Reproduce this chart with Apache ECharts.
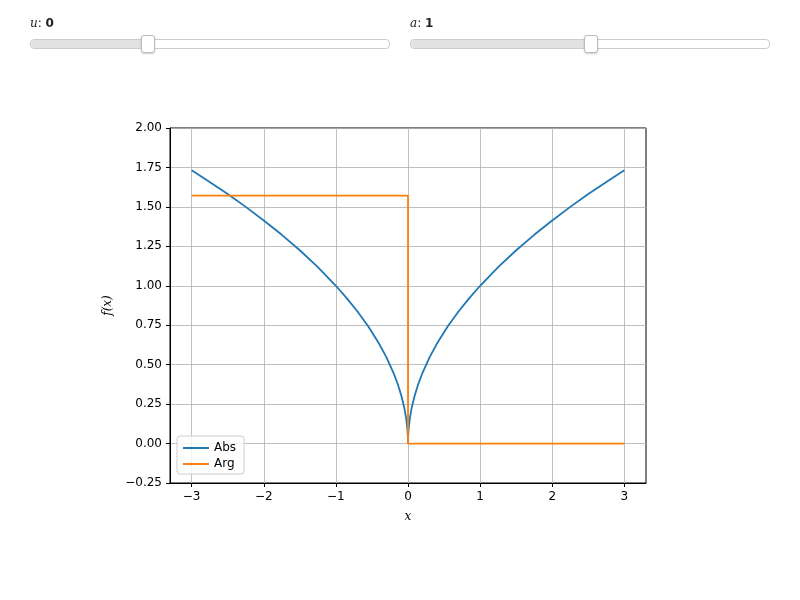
<!DOCTYPE html>
<html>
<head>
<meta charset="utf-8">
<script src="https://cdn.jsdelivr.net/npm/echarts@6/dist/echarts.min.js"></script>
<style>
body{margin:0;background:#fff;font-family:"DejaVu Sans",sans-serif;}
#chart{width:800px;height:600px;position:absolute;left:0;top:0;}
.lbl{position:absolute;top:16px;font-size:12px;color:#222;}
.lbl i{font-family:"DejaVu Serif",serif;}
.track{position:absolute;top:39px;height:8px;border:1px solid #ccc;border-radius:4px;background:#fff;}
.fill{position:absolute;left:0;top:0;height:8px;background:#e2e2e2;border-radius:4px;}
.handle{position:absolute;top:-5px;width:12px;height:16px;background:#fff;border:1px solid #bbb;border-radius:3px;box-shadow:0 1px 2px rgba(0,0,0,.2);}
</style>
</head>
<body>
<div id="chart"></div>
<div class="lbl" style="left:30px"><i>u</i>: <b>0</b></div>
<div class="track" style="left:30px;width:358px"><div class="fill" style="width:117px"></div><div class="handle" style="left:110px"></div></div>
<div class="lbl" style="left:410px"><i>a</i>: <b>1</b></div>
<div class="track" style="left:410px;width:358px"><div class="fill" style="width:180px"></div><div class="handle" style="left:173px"></div></div>
<script>
var xs = [-3,-2.75,-2.5,-2.25,-2,-1.75,-1.5,-1.25,-1,-0.85,-0.7,-0.55,-0.4,-0.3,-0.2,-0.14,-0.09,-0.05,-0.025,-0.01,-0.002,0,
          0.002,0.01,0.025,0.05,0.09,0.14,0.2,0.3,0.4,0.55,0.7,0.85,1,1.25,1.5,1.75,2,2.25,2.5,2.75,3];
var absVals = [1.732,1.658,1.581,1.5,1.414,1.323,1.225,1.118,1.0,0.922,0.837,0.742,0.632,0.548,0.447,0.374,0.3,0.224,0.158,0.1,0.045,0,
               0.045,0.1,0.158,0.224,0.3,0.374,0.447,0.548,0.632,0.742,0.837,0.922,1.0,1.118,1.225,1.323,1.414,1.5,1.581,1.658,1.732];
var argX = [-3,0,0,3];
var argVals = [1.5708,1.5708,0,0];
var xTicks = [-3,-2,-1,0,1,2,3];

var absData = [], argData = [];
for (var i = 0; i < xs.length; i++) absData.push([xs[i], absVals[i]]);
for (var j = 0; j < argX.length; j++) argData.push([argX[j], argVals[j]]);

function minus(s){ return String(s).replace('-', '\u2212'); }

var chart = echarts.init(document.getElementById('chart'));
var axisText = {color:'#000', fontSize:12, fontFamily:'DejaVu Sans'};
chart.setOption({
  animation:false,
  grid:{left:170, right:154, top:128, bottom:117, show:true, borderColor:'#000', borderWidth:1},
  legend:{
    orient:'vertical', left:177, top:436, itemGap:4, itemWidth:26, itemHeight:2,
    backgroundColor:'rgba(255,255,255,0.8)', borderColor:'#ccc', borderWidth:1, borderRadius:3,
    padding:[6,8,4,6], textStyle:{fontSize:12, fontFamily:'DejaVu Sans', color:'#000'},
    data:[{name:'Abs', icon:'rect'},{name:'Arg', icon:'rect'}]
  },
  xAxis:{
    type:'value', min:-3.3, max:3.3,
    name:'x', nameLocation:'middle', nameGap:28,
    nameTextStyle:{fontStyle:'italic', fontSize:12, fontFamily:'DejaVu Serif', color:'#000'},
    axisLine:{onZero:false, lineStyle:{color:'#000'}},
    axisTick:{customValues:xTicks, length:4, lineStyle:{color:'#000'}},
    axisLabel:Object.assign({customValues:xTicks, margin:8, formatter:function(v){return minus(v);}}, axisText),
    splitLine:{show:true, lineStyle:{color:'#b0b0b0', width:0.8}}
  },
  yAxis:{
    type:'value', min:-0.25, max:2.0, interval:0.25,
    name:'f(x)', nameLocation:'middle', nameGap:52, nameRotate:90,
    nameTextStyle:{fontStyle:'italic', fontSize:12, fontFamily:'DejaVu Serif', color:'#000'},
    axisLine:{show:true, onZero:false, lineStyle:{color:'#000'}},
    axisTick:{show:true, length:4, lineStyle:{color:'#000'}},
    axisLabel:Object.assign({margin:8, formatter:function(v){return minus(v.toFixed(2));}}, axisText),
    splitLine:{show:true, lineStyle:{color:'#b0b0b0', width:0.8}}
  },
  series:[
    {name:'Abs', type:'line', data:absData, showSymbol:false, lineStyle:{width:1.8, color:'#1f77b4'}, itemStyle:{color:'#1f77b4'}},
    {name:'Arg', type:'line', data:argData, showSymbol:false, lineStyle:{width:1.8, color:'#ff7f0e'}, itemStyle:{color:'#ff7f0e'}}
  ]
});
</script>
</body>
</html>
